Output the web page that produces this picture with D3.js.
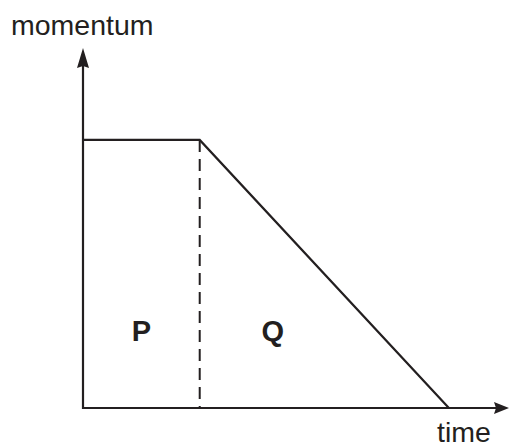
<!DOCTYPE html>
<html>
<head>
<meta charset="utf-8">
<script src="https://cdn.jsdelivr.net/npm/d3@7"></script>
<style>
  body { margin: 0; background: #fff; }
  text { font-family: "Liberation Sans", Arial, sans-serif; fill: #231f20; }
</style>
</head>
<body>
<div id="chart-container"></div>
<script>
'use strict'

// time / momentum values
var times = [0, 2.0, 6.27]
var momentum = [1, 1, 0]
var changeTime = 2.0
var axisMax = { time: 7.3, momentum: 1.343 }
var areaLabels = [
    { name: 'P', time: 1.0, momentum: 0.25 },
    { name: 'Q', time: 3.25, momentum: 0.25 }
]

var width = 509
var height = 447
var origin = { x: 83, y: 408 }
var ink = '#231f20'

var svg = d3.select('#chart-container')
    .append('svg')
        .attr('width', width)
        .attr('height', height)

let x = d3.scaleLinear()
    .domain([0, axisMax.time])
    .range([origin.x, 509])

let y = d3.scaleLinear()
    .domain([0, axisMax.momentum])
    .range([origin.y, 48])

// axes with arrow heads
svg.append('line')
    .attr('x1', x(0)).attr('y1', y(0) + 1)
    .attr('x2', x(0)).attr('y2', y(axisMax.momentum) + 12)
    .attr('stroke', ink).attr('stroke-width', 2.2)

svg.append('line')
    .attr('x1', x(0) - 1).attr('y1', y(0))
    .attr('x2', x(axisMax.time) - 10).attr('y2', y(0))
    .attr('stroke', ink).attr('stroke-width', 2.2)

let tipY = [x(0), y(axisMax.momentum)]
svg.append('path')
    .attr('d', 'M' + tipY[0] + ',' + tipY[1] +
        'L' + (tipY[0] + 6) + ',' + (tipY[1] + 20) +
        'L' + tipY[0] + ',' + (tipY[1] + 18) +
        'L' + (tipY[0] - 6) + ',' + (tipY[1] + 20) + 'Z')
    .attr('fill', ink)

let tipX = [x(axisMax.time), y(0)]
svg.append('path')
    .attr('d', 'M' + tipX[0] + ',' + tipX[1] +
        'L' + (tipX[0] - 15) + ',' + (tipX[1] - 6) +
        'L' + (tipX[0] - 13) + ',' + tipX[1] +
        'L' + (tipX[0] - 15) + ',' + (tipX[1] + 6) + 'Z')
    .attr('fill', ink)

// momentum line
let pts = times.map((t, i) => [t, momentum[i]])
svg.append('path')
    .datum(pts)
    .attr('d', d3.line().x(d => x(d[0])).y(d => y(d[1])))
    .attr('fill', 'none')
    .attr('stroke', ink)
    .attr('stroke-width', 2.2)

// dashed divider
svg.append('line')
    .attr('x1', x(changeTime)).attr('y1', y(momentum[1]))
    .attr('x2', x(changeTime)).attr('y2', y(0))
    .attr('stroke', ink)
    .attr('stroke-width', 2)
    .attr('stroke-dasharray', '12,7')

// region labels
svg.selectAll('.area-label').data(areaLabels)
    .enter().append('text')
        .attr('class', 'area-label')
        .attr('x', d => x(d.time))
        .attr('y', d => y(d.momentum))
        .attr('text-anchor', 'middle')
        .style('font-size', '29px')
        .style('font-weight', 'bold')
        .text(d => d.name)

// axis titles
svg.append('text')
    .attr('x', 11)
    .attr('y', 35)
    .style('font-size', '28.5px')
    .text('momentum')

svg.append('text')
    .attr('x', 437)
    .attr('y', 442)
    .style('font-size', '28.5px')
    .text('time')
</script>
</body>
</html>
